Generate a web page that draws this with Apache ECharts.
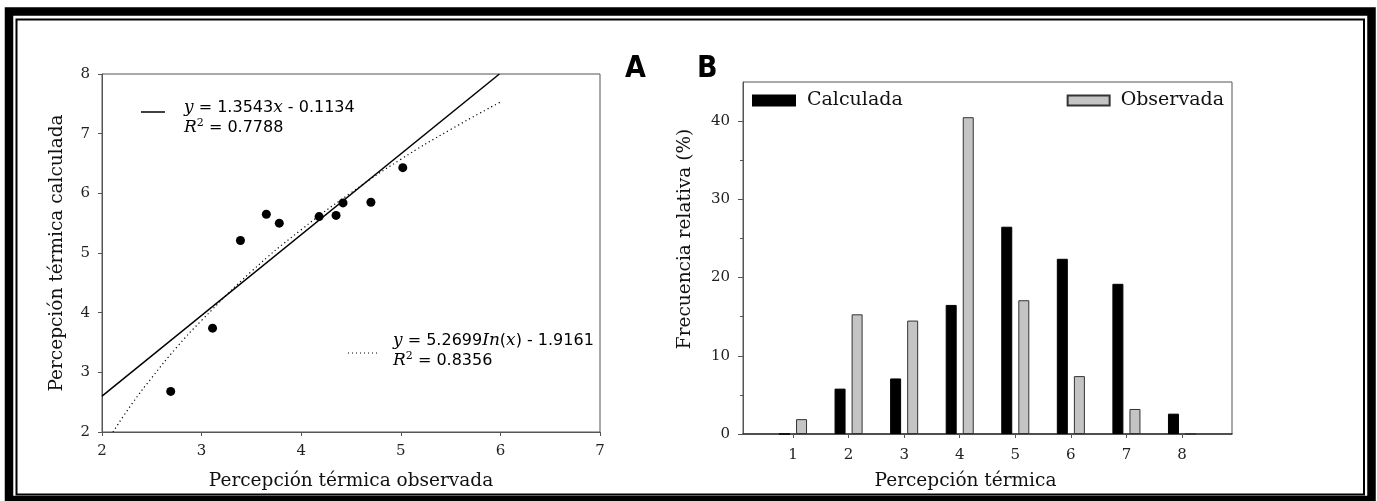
<!DOCTYPE html>
<html>
<head>
<meta charset="utf-8">
<script src="https://cdn.jsdelivr.net/npm/echarts@6/dist/echarts.min.js"></script>
<style>
html, body { margin: 0; padding: 0; background: #fff; }
#main { width: 1377px; height: 501px; }
</style>
</head>
<body>
<div id="main"></div>
<script>
// A: percepción térmica observada vs calculada
var observada = [2.69, 3.11, 3.39, 3.65, 3.78, 4.18, 4.35, 4.42, 4.70, 5.02];
var calculada = [2.68, 3.74, 5.21, 5.65, 5.50, 5.61, 5.63, 5.84, 5.85, 6.43];
// lineas de ajuste
var linealX = [2, 5.99];
var linealY = [2.6, 8];
var logX = [2.11, 2.3, 2.5, 2.75, 3, 3.5, 4, 4.5, 5, 5.5, 6];
var logY = [2.0, 2.47, 2.91, 3.42, 3.87, 4.69, 5.39, 6.01, 6.57, 7.07, 7.53];

// B: frecuencia relativa (%)
var categorias = [1, 2, 3, 4, 5, 6, 7, 8];
var frecCalculada = [0, 5.8, 7.1, 16.5, 26.5, 22.4, 19.2, 2.6];
var frecObservada = [1.9, 15.3, 14.5, 40.5, 17.1, 7.4, 3.2, 0];
var ticksY = [0, 10, 20, 30, 40];
var ticksYmenor = [5, 15, 25, 35];

function pares(xs, ys) {
    return xs.map(function (x, i) { return [x, ys[i]]; });
}

var serif = 'DejaVu Serif';
var gris = '#555';
var titulo = { fontFamily: serif, fontSize: 18.5, color: '#111' };
var myChart = echarts.init(document.getElementById('main'));

// texto de las ecuaciones (superindice con rich)
var richEc = {
    i: { fontFamily: serif, fontStyle: 'italic', fontSize: 17, lineHeight: 20 },
    s: { fontFamily: serif, fontSize: 11, lineHeight: 12, verticalAlign: 'top' }
};

var option = {
    animation: false,
    grid: [
        { left: 102, top: 74, width: 498, height: 358, show: true, borderColor: gris, borderWidth: 1 },
        { left: 743, top: 82, width: 489, height: 352, show: true, borderColor: gris, borderWidth: 1 }
    ],
    xAxis: [
        {
            type: 'value', gridIndex: 0, min: 2, max: 7, interval: 1,
            name: 'Percepción térmica observada', nameLocation: 'middle', nameGap: 40,
            nameTextStyle: titulo,
            axisLine: { lineStyle: { color: gris } },
            axisTick: { length: 4, lineStyle: { color: gris } },
            axisLabel: { margin: 12, fontFamily: serif, fontSize: 15, color: '#222' },
            splitLine: { show: false }
        },
        {
            type: 'value', gridIndex: 1, min: 0.1, max: 8.9,
            name: 'Percepción térmica', nameLocation: 'middle', nameGap: 38,
            nameTextStyle: Object.assign({ padding: [0, 44, 0, 0] }, titulo),
            axisLine: { onZero: false, lineStyle: { color: '#333', width: 1.5 } },
            axisTick: { customValues: categorias, length: 4, lineStyle: { color: gris } },
            axisLabel: { customValues: categorias, margin: 14, fontFamily: serif, fontSize: 15, color: '#222' },
            splitLine: { show: false }
        }
    ],
    yAxis: [
        {
            type: 'value', gridIndex: 0, min: 2, max: 8, interval: 1,
            name: 'Percepción térmica calculada', nameLocation: 'middle', nameGap: 35,
            nameTextStyle: titulo,
            axisLine: { lineStyle: { color: gris } },
            axisTick: { length: 4, lineStyle: { color: gris } },
            axisLabel: { margin: 12, fontFamily: serif, fontSize: 15, color: '#222' },
            splitLine: { show: false }
        },
        {
            type: 'value', gridIndex: 1, min: 0, max: 45,
            name: 'Frecuencia relativa (%)', nameLocation: 'middle', nameGap: 48,
            nameTextStyle: Object.assign({ padding: [0, 0, 0, 38] }, titulo),
            axisLine: { lineStyle: { color: gris } },
            axisTick: { customValues: ticksY, length: 5, lineStyle: { color: gris } },
            axisLabel: { customValues: ticksY, margin: 13, fontFamily: serif, fontSize: 15, color: '#222' },
            splitLine: { show: false }
        },
        {
            // solo las marcas menores
            type: 'value', gridIndex: 1, min: 0, max: 45, position: 'left',
            axisLine: { show: false },
            axisTick: { customValues: ticksYmenor, length: 3, lineStyle: { color: gris } },
            axisLabel: { show: false },
            splitLine: { show: false }
        }
    ],
    legend: [
        {
            data: ['Calculada'], left: 752, top: 91, padding: 0, icon: 'rect',
            itemWidth: 42, itemHeight: 10,
            textStyle: { fontFamily: serif, fontSize: 19, color: '#111', padding: [0, 0, 0, 7] }
        },
        {
            data: ['Observada'], right: 153, top: 91, padding: 0, icon: 'rect',
            itemWidth: 42, itemHeight: 10,
            textStyle: { fontFamily: serif, fontSize: 19, color: '#111', padding: [0, 0, 0, 6] }
        }
    ],
    series: [
        {
            type: 'scatter', xAxisIndex: 0, yAxisIndex: 0,
            data: pares(observada, calculada), symbolSize: 9,
            itemStyle: { color: '#000', opacity: 1 }
        },
        {
            type: 'line', xAxisIndex: 0, yAxisIndex: 0,
            data: pares(linealX, linealY), symbol: 'none',
            lineStyle: { color: '#000', width: 1.5 }
        },
        {
            type: 'line', xAxisIndex: 0, yAxisIndex: 0,
            data: pares(logX, logY), symbol: 'none', smooth: true,
            lineStyle: { color: '#000', width: 1.2, type: [1.2, 3] }
        },
        {
            type: 'bar', name: 'Calculada', xAxisIndex: 1, yAxisIndex: 1,
            data: pares(categorias, frecCalculada), barWidth: 11, barGap: '55%',
            itemStyle: { color: '#000', borderColor: '#000', borderWidth: 1 }
        },
        {
            type: 'bar', name: 'Observada', xAxisIndex: 1, yAxisIndex: 1,
            data: pares(categorias, frecObservada), barWidth: 11, barGap: '55%',
            itemStyle: { color: '#c4c4c4', borderColor: '#333', borderWidth: 1 }
        }
    ],
    graphic: [
        // marco doble
        { type: 'rect', silent: true, z: 100, shape: { x: 9, y: 11.5, width: 1362.5, height: 488.5 },
          style: { fill: 'none', stroke: '#000', lineWidth: 8.5 } },
        { type: 'rect', silent: true, z: 100, shape: { x: 16.5, y: 19.5, width: 1347.5, height: 475 },
          style: { fill: 'none', stroke: '#000', lineWidth: 2 } },
        // letras de panel
        { type: 'text', left: 625, top: 54, style: { text: 'A', font: 'bold 30px "DejaVu Sans Condensed"', fill: '#000' } },
        { type: 'text', left: 697, top: 54, style: { text: 'B', font: 'bold 30px "DejaVu Sans Condensed"', fill: '#000' } },
        // ecuaciones de ajuste
        { type: 'line', shape: { x1: 141, y1: 112, x2: 165, y2: 112 }, style: { stroke: '#000', lineWidth: 1.5 } },
        { type: 'text', left: 184, top: 98, style: {
            text: '{i|y} = 1.3543{i|x} - 0.1134\n{i|R}{s|2} = 0.7788',
            fontFamily: 'DejaVu Sans', fontSize: 16, lineHeight: 20, fill: '#000', rich: richEc
        } },
        { type: 'line', shape: { x1: 348, y1: 353, x2: 378, y2: 353 }, style: { stroke: '#000', lineWidth: 1, lineDash: [1, 3] } },
        { type: 'text', left: 393, top: 331, style: {
            text: '{i|y} = 5.2699{i|In}({i|x}) - 1.9161\n{i|R}{s|2} = 0.8356',
            fontFamily: 'DejaVu Sans', fontSize: 16, lineHeight: 20, fill: '#000', rich: richEc
        } }
    ]
};

myChart.setOption(option);
</script>
</body>
</html>
